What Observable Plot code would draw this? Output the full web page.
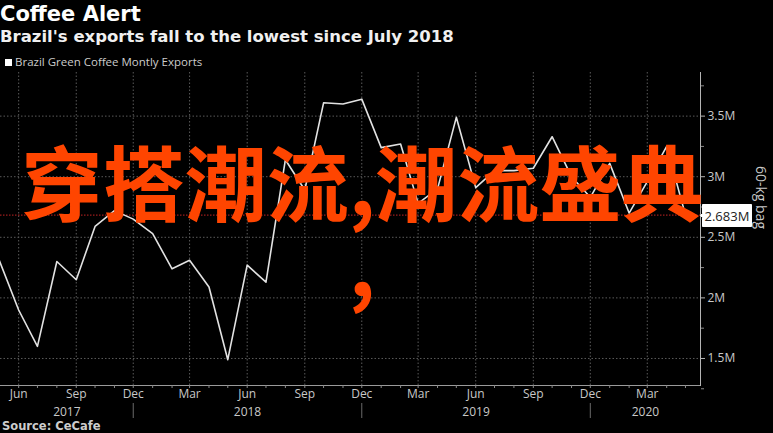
<!DOCTYPE html>
<html>
<head>
<meta charset="utf-8">
<script src="https://cdn.jsdelivr.net/npm/d3@7"></script>
<script src="https://cdn.jsdelivr.net/npm/@observablehq/plot@0.6"></script>
<style>
  html, body { margin: 0; padding: 0; background: #000; }
  #wrap { position: relative; width: 773px; height: 433px; overflow: hidden; background: #000; font-family: "Open Sans", sans-serif; }
  #title { position: absolute; left: 0; top: 2px; font-family: "DejaVu Sans", sans-serif; font-size: 21px; font-weight: 700; color: #fff; line-height: 24px; white-space: nowrap; }
  #subtitle { position: absolute; left: 0; top: 27px; font-family: "DejaVu Sans", sans-serif; font-size: 16.5px; font-weight: 700; color: #f0f0f0; line-height: 20px; white-space: nowrap; }
  #legend { position: absolute; left: 5px; top: 55px; font-size: 11.5px; color: #ccc; line-height: 14px; white-space: nowrap; }
  #legend .sw { display: inline-block; width: 7px; height: 7px; background: #fff; margin-right: 3px; vertical-align: 0px; }
  #chart { position: absolute; left: 0; top: 70px; }
  #source { position: absolute; left: 2px; top: 419px; font-family: "DejaVu Sans", sans-serif; font-size: 11.5px; font-weight: 700; color: #ccc; line-height: 14px; white-space: nowrap; }
  #overlay { position: absolute; left: 0; top: 139px; width: 724px; text-align: center; font-family: "Noto Sans CJK SC", sans-serif; font-weight: 700; font-size: 82px; line-height: 81px; color: #ff4500; white-space: nowrap; pointer-events: none; }
</style>
</head>
<body>
<div id="wrap">
  <div id="title"></div>
  <div id="subtitle"></div>
  <div id="legend"><span class="sw"></span><span id="legendText"></span></div>
  <div id="chart"></div>
  <div id="source"></div>
  <div id="overlay"></div>
</div>
<script>
// ---- data ----
const titleText = "Coffee Alert";
const subtitleText = "Brazil's exports fall to the lowest since July 2018";
const seriesName = "Brazil Green Coffee Montly Exports";
const sourceText = "Source: CeCafe";
const overlayLines = ["穿搭潮流,潮流盛典", ","];
const unitLabel = "60-kg bag";

const months = [
  "2017-05","2017-06","2017-07","2017-08","2017-09","2017-10","2017-11","2017-12",
  "2018-01","2018-02","2018-03","2018-04","2018-05","2018-06","2018-07","2018-08",
  "2018-09","2018-10","2018-11","2018-12","2019-01","2019-02","2019-03","2019-04",
  "2019-05","2019-06","2019-07","2019-08","2019-09","2019-10","2019-11","2019-12",
  "2020-01","2020-02","2020-03","2020-04","2020-05"
];
// millions of 60-kg bags
const exportsM = [
  2.31, 1.90, 1.60, 2.30, 2.15, 2.59, 2.72, 2.65,
  2.53, 2.24, 2.31, 2.09, 1.49, 2.27, 2.13, 3.14,
  2.89, 3.61, 3.60, 3.64, 3.24, 3.27, 2.78, 2.90,
  3.49, 2.91, 3.05, 3.05, 3.07, 3.33, 3.00, 2.83,
  3.11, 2.70, 2.96, 3.25, 2.683
];
const yTicksM = [1.5, 2, 2.5, 3, 3.5];
const yMinorM = [1.25, 1.75, 2.25, 2.75, 3.25, 3.75];
const quarterLabels = ["2017-06","2017-09","2017-12","2018-03","2018-06","2018-09","2018-12","2019-03","2019-06","2019-09","2019-12","2020-03"];
const yearSeparators = ["2017-12","2018-12","2019-12"];
const xDomain = ["2017-05-03", "2020-05-25"];
const yDomainM = [1.277, 3.86];

// ---- build ----
const pm = d3.utcParse("%Y-%m");
const pd = d3.utcParse("%Y-%m-%d");
const data = months.map((m, i) => ({date: pm(m), value: exportsM[i] * 1e6}));
const last = data[data.length - 1];
const dom = xDomain.map(pd);
const allMonths = d3.utcMonth.range(dom[0], dom[1]);
const quarters = quarterLabels.map(pm);
const seps = yearSeparators.map(pm);
const bounds = [dom[0], ...seps, dom[1]];
const yearMids = bounds.slice(0, -1).map((b, i) => new Date((+b + +bounds[i + 1]) / 2));
const yearNames = ["2017", "2018", "2019", "2020"];

document.getElementById("title").textContent = titleText;
document.getElementById("subtitle").textContent = subtitleText;
document.getElementById("legendText").textContent = seriesName;
document.getElementById("source").textContent = sourceText;
document.getElementById("overlay").innerHTML = overlayLines.join("<br>");

const fmtM = d => (d / 1e6) + "M";
const labelColor = "#c8c8c8";
const gridColor = "#5a5a5a";

const chart = Plot.plot({
  width: 773,
  height: 345,
  marginTop: 2,
  marginBottom: 30,
  marginLeft: 0,
  marginRight: 73,
  style: {background: "#000", color: labelColor, fontFamily: "Open Sans, sans-serif", fontSize: "12px", overflow: "visible"},
  x: {type: "utc", domain: dom},
  y: {domain: yDomainM.map(v => v * 1e6)},
  marks: [
    Plot.gridY(yTicksM.map(v => v * 1e6), {stroke: gridColor, strokeOpacity: 1, strokeDasharray: "1.5,2"}),
    Plot.gridX(quarters, {stroke: gridColor, strokeOpacity: 1, strokeDasharray: "1.5,2"}),
    Plot.ruleY([last], {y: "value", stroke: "#9a1c1c", strokeWidth: 1.2, strokeDasharray: "1.5,1.5"}),
    Plot.line(data, {x: "date", y: "value", stroke: "#e2e2e2", strokeWidth: 1.6, clip: true}),
    Plot.frame({anchor: "bottom", stroke: "#9a9a9a"}),
    Plot.frame({anchor: "right", stroke: "#b4b4b4"}),
    Plot.axisX(allMonths, {tickSize: 3, fill: "none", stroke: "#8a8a8a", label: null}),
    Plot.axisX(quarters, {tickSize: 0, tickPadding: 4, tickFormat: d3.utcFormat("%b"), fill: labelColor, fontSize: 12, label: null}),
    Plot.axisX(yearMids, {tickSize: 0, tickPadding: 22, tickFormat: (d, i) => yearNames[i], fill: labelColor, fontSize: 12, label: null}),
    Plot.ruleX(seps, {stroke: "#6a6a6a", insetTop: 331, insetBottom: -33}),
    Plot.axisY(yTicksM.map(v => v * 1e6), {anchor: "right", tickSize: 4, tickPadding: 3, tickFormat: fmtM, stroke: "#b4b4b4", fill: labelColor, fontSize: 12, label: null}),
    Plot.axisY(yMinorM.map(v => v * 1e6), {anchor: "right", tickSize: 3, fill: "none", stroke: "#8a8a8a", label: null}),
    Plot.text([unitLabel], {frameAnchor: "right", dx: 60, rotate: 90, text: d => d, fill: labelColor, fontSize: 14}),
    Plot.tip([last], {
      x: () => dom[1], y: "value", title: d => (d.value / 1e6).toFixed(3) + "M",
      anchor: "left", pointerSize: 4, textPadding: 2, fill: "#fff", stroke: "#fff", fontSize: 13, pathFilter: "none",
      render: (index, scales, values, dimensions, context, next) => {
        const g = next(index, scales, values, dimensions, context);
        g.style.color = "#222";
        g.querySelectorAll("text, tspan").forEach(t => t.setAttribute("fill", "#222"));
        return g;
      }
    })
  ]
});
document.getElementById("chart").appendChild(chart);
</script>
</body>
</html>
